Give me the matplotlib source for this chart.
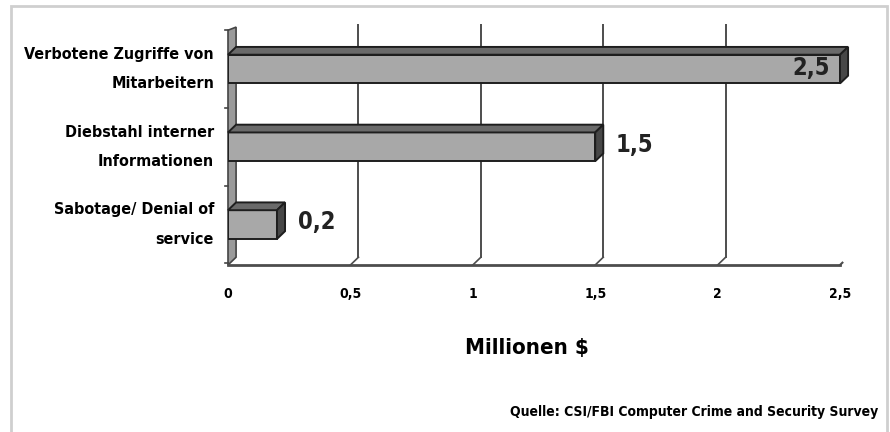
import matplotlib.pyplot as plt
from matplotlib.patches import Polygon, Rectangle

categories = ['Verbotene Zugriffe von\nMitarbeitern',
              'Diebstahl interner\nInformationen',
              'Sabotage/ Denial of\nservice']
values = [2.5, 1.5, 0.2]
value_labels = ['2,5', '1,5', '0,2']
xticks = [0, 0.5, 1, 1.5, 2, 2.5]
xtick_labels = ['0', '0,5', '1', '1,5', '2', '2,5']

plt.rcParams['font.family'] = ['DejaVu Sans']
plt.rcParams['font.stretch'] = 'condensed'
plt.rcParams['font.weight'] = 'bold'

fig = plt.figure(figsize=(8.9, 4.32), dpi=100)
ax = fig.add_axes([228 / 890, 1 - 265 / 432, 612 / 890, 241 / 432])

ybot, ytop = -0.52, 2.58
dx, dy = 0.033, 0.10   # 3D depth
h = 0.37

ax.set_xlim(0, 2.5)
ax.set_ylim(ybot, ytop)
for s in ax.spines.values():
    s.set_visible(False)

# left wall
ax.add_patch(Polygon([(0, ybot), (dx, ybot + dy), (dx, ytop - 0.04), (0, ytop - 0.08)],
                     closed=True, facecolor='#9a9a9a', edgecolor='#444444', lw=1.2,
                     clip_on=False, zorder=1))
# kleine Ticks an der Wand
for yt in [2.5, 1.5, 0.5, -0.5]:
    ax.plot([-0.014, 0], [yt, yt], color='#444444', lw=1.2, clip_on=False)
# gridlines
for t in xticks[1:-1]:
    ax.plot([t + dx, t + dx], [ybot + dy, ytop], color='#4d4d4d', lw=1.4, zorder=1)
    ax.plot([t, t + dx], [ybot, ybot + dy], color='#4d4d4d', lw=1.2, zorder=1)
# floor line
ax.plot([0, 2.5], [ybot, ybot], color='#4d4d4d', lw=2, clip_on=False, zorder=2)
ax.plot([2.5, 2.5 + dx * 0.3], [ybot, ybot + dy * 0.3], color='#4d4d4d', lw=1.5, clip_on=False)

# bars
ypos = [2, 1, 0]
for yc, v in zip(ypos, values):
    y0, y1 = yc - h / 2, yc + h / 2
    ax.add_patch(Rectangle((0, y0), v, h, facecolor='#a8a8a8', edgecolor='#1e1e1e',
                           lw=1.4, zorder=3))
    ax.add_patch(Polygon([(0, y1), (v, y1), (v + dx, y1 + dy), (dx, y1 + dy)], closed=True,
                         facecolor='#6a6a6a', edgecolor='#1e1e1e', lw=1.4, zorder=3,
                         clip_on=False))
    ax.add_patch(Polygon([(v, y0), (v + dx, y0 + dy), (v + dx, y1 + dy), (v, y1)], closed=True,
                         facecolor='#474747', edgecolor='#1e1e1e', lw=1.4, zorder=3,
                         clip_on=False))

# value labels
for yc, v, lab in zip(ypos, values, value_labels):
    if v >= max(values):
        ax.text(v - 0.04, yc + 0.02, lab, ha='right', va='center', fontsize=17,
                color='#222222', zorder=4)
    else:
        ax.text(v + 0.085, yc + 0.03, lab, ha='left', va='center', fontsize=17,
                color='#222222', zorder=4)

ax.set_xticks(xticks)
ax.set_xticklabels(xtick_labels, fontsize=10)
ax.set_yticks(ypos)
ax.set_yticklabels(categories, fontsize=11.5, linespacing=2.2, va='center')
ax.tick_params(axis='x', length=0, pad=16)
ax.tick_params(axis='y', length=0, pad=10)

fig.text(527 / 890, 1 - 348 / 432, 'Millionen $', ha='center', va='center', fontsize=16)
fig.text(878 / 890, 1 - 412 / 432, 'Quelle: CSI/FBI Computer Crime and Security Survey',
         ha='right', va='center', fontsize=10)

# frame
fig.add_artist(Rectangle((11 / 890, -0.01), 876 / 890, 1 - 6 / 432 + 0.01,
                         transform=fig.transFigure, fill=False, edgecolor='#cfcfcf', lw=2))

fig.savefig('out.png', dpi=100)
